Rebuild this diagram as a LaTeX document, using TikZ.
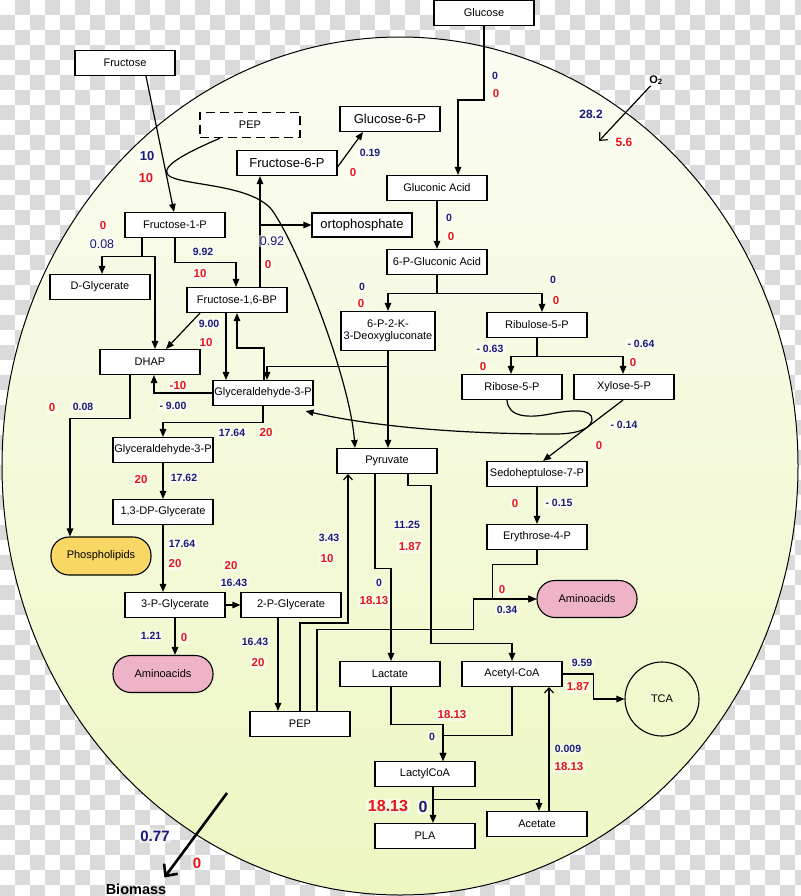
\documentclass[tikz,border=0pt]{standalone}
\usepackage{fontspec}
\setmainfont{Liberation Sans}
\usetikzlibrary{arrows.meta}
\definecolor{navy}{HTML}{1A1A78}
\definecolor{flred}{HTML}{E8141B}
\definecolor{celltop}{HTML}{FBFCF3}
\definecolor{cellbot}{HTML}{EDF7C2}
\definecolor{chk}{HTML}{DADADA}
\definecolor{lipid}{HTML}{F8D765}
\definecolor{amino}{HTML}{EFB3C7}

\begin{document}
\begin{tikzpicture}[x=1pt, y=-1pt,
  box/.style={draw, line width=1.1pt, fill=white, minimum width=100pt, minimum height=25pt, inner sep=1pt, align=center, font=\fontsize{11}{12}\selectfont},
  bigbox/.style={box, font=\fontsize{13}{15}\selectfont},
  pill/.style={box, rounded corners=18pt, minimum height=37pt},
  arr/.style={-{Triangle[length=8pt,width=6.5pt]}, line width=1.2pt},
  oarr/.style={-{Straight Barb[length=5pt,width=9pt]}, line width=1.2pt},
  nb/.style={text=navy, font=\bfseries\fontsize{10.5}{12}\selectfont, fill=white, fill opacity=0.5, text opacity=1, inner sep=1.5pt},
  nr/.style={nb, text=flred, font=\bfseries\fontsize{11.5}{13}\selectfont}
]
  \useasboundingbox (0,0) rectangle (800,896);

  % checkered backdrop and the cell
  \fill[white] (0,0) rectangle (800,896);
  \foreach \i in {0,30,...,780}
    \foreach \j in {0,30,...,870}
      {\fill[chk] (\i+15,\j) rectangle ++(15,15);
       \fill[chk] (\i,\j+15) rectangle ++(15,15);}
  \path[top color=celltop, bottom color=cellbot, draw=black, line width=1pt]
    (400,466) ellipse [x radius=398pt, y radius=429pt];

  % metabolites
  \node[box] (glc) at (484,13) {Glucose};
  \node[box] (fru) at (125,63) {Fructose};
  \node[box, dashed, dash pattern=on 9pt off 5pt, line width=1.4pt] (pepx) at (250,125) {PEP};
  \node[bigbox] (g6p) at (390,119) {Glucose-6-P};
  \node[bigbox] (f6p) at (287,163) {Fructose-6-P};
  \node[box] (glcA) at (437,188) {Gluconic Acid};
  \node[bigbox, minimum height=24pt] (orto) at (362,225) {ortophosphate};
  \node[box] (pga6) at (437,262) {6-P-Gluconic Acid};
  \node[box] (f1p) at (175,225) {Fructose-1-P};
  \node[box] (dgly) at (100,287) {D-Glycerate};
  \node[box] (fbp) at (237,300) {Fructose-1,6-BP};
  \node[box, minimum width=94pt, minimum height=39pt] (kdpg) at (388,331) {6-P-2-K-\\3-Deoxygluconate};
  \node[box] (ru5p) at (537,325) {Ribulose-5-P};
  \node[box] (dhap) at (150,362) {DHAP};
  \node[box] (gap) at (263,393) {Glyceraldehyde-3-P};
  \node[box] (r5p) at (512,387) {Ribose-5-P};
  \node[box] (x5p) at (624,387) {Xylose-5-P};
  \node[box] (gap2) at (163,450) {Glyceraldehyde-3-P};
  \node[box] (pyr) at (387,461) {Pyruvate};
  \node[box] (s7p) at (537,474) {Sedoheptulose-7-P};
  \node[box] (bpg) at (163,512) {1,3-DP-Glycerate};
  \node[box] (e4p) at (537,537) {Erythrose-4-P};
  \node[pill, fill=lipid, minimum height=38pt] (phos) at (101,556) {Phospholipids};
  \node[pill, fill=amino] (aa2) at (587,599) {Aminoacids};
  \node[box] (pg3) at (175,605) {3-P-Glycerate};
  \node[box] (pg2) at (291,605) {2-P-Glycerate};
  \node[pill, fill=amino] (aa1) at (163,674) {Aminoacids};
  \node[box] (lac) at (390,674) {Lactate};
  \node[box] (accoa) at (512,674) {Acetyl-CoA};
  \node[draw, circle, line width=1.1pt, minimum size=74pt, font=\fontsize{11}{12}\selectfont] (tca) at (662,699) {TCA};
  \node[box] (pep) at (300,724) {PEP};
  \node[box] (lcoa) at (425,774) {LactylCoA};
  \node[box] (ace) at (537,824) {Acetate};
  \node[box] (pla) at (425,836) {PLA};
  \node[font=\bfseries\fontsize{11}{13}\selectfont, inner sep=1pt] (o2) at (656,80) {O\textsubscript{2}};
  \node[font=\bfseries\fontsize{14.5}{16}\selectfont, inner sep=1pt] (bio) at (136,889) {Biomass};
  \coordinate (o2in) at (599,141);
  \coordinate (biostart) at (227,793);

  % fluxes
  \draw[arr] (glc.south) -- ++(0,74) -| ([xshift=21pt]glcA.north);
  \draw[arr] ([xshift=21pt]fru.south) -- ([xshift=-1pt]f1p.north);
  \draw[arr] ([xshift=-30pt]pepx.south) .. controls (188,152) and (160,166) .. (168,175)
    .. controls (180,186) and (250,183) .. (272,210)
    .. controls (300,250) and (350,380) .. ([xshift=-32pt]pyr.north);
  \draw[arr] ([yshift=-4pt]f6p.east) -- ([xshift=-27pt]g6p.south);
  \draw[arr] ([xshift=23pt]fbp.north) -- ([xshift=-27pt]f6p.south);
  \draw[arr] ([xshift=23pt]fbp.north |- orto.west) -- (orto.west);
  \draw[arr] ([xshift=-33pt]f1p.south) -- ++(0,18.5) -| ([xshift=2pt]dgly.north);
  \draw[arr] ([xshift=-33pt]f1p.south) ++(0,18.5) -| ([xshift=5pt]dhap.north);
  \draw[arr] (f1p.south) -- ++(0,24.5) -| ([xshift=-1pt]fbp.north);
  \draw[arr] ([xshift=-37pt]fbp.south) -- ([xshift=16pt]dhap.north);
  \draw[arr] ([xshift=-11pt]fbp.south) -- ([xshift=-37pt]gap.north);
  \draw[arr] ([xshift=1pt]gap.north) -- ++(0,-32) -| (fbp.south);
  \draw[arr] (kdpg.south) -- (kdpg.south |- pyr.north);
  \draw[arr] (kdpg.south) ++(0,15.5) -| ([xshift=4pt]gap.north);
  \draw[arr] (gap.west) -| ([xshift=4pt]dhap.south);
  \draw[arr] ([xshift=-20pt]dhap.south) -- ++(0,43.5) -| ([xshift=-31pt]phos.north);
  \draw[arr] (gap.south) -- ++(0,16.5) -| (gap2.north);
  \draw[arr] ([xshift=-5pt]r5p.south) .. controls (508,418) and (530,418) .. (550,414)
    .. controls (570,410) and (593,408) .. (592,420)
    .. controls (590,430) and (575,434) .. (555,434)
    .. controls (470,434) and (380,428) .. ([xshift=-8pt,yshift=-5pt]gap.south east);
  \draw[arr] ([xshift=-1pt]x5p.south) -- ([xshift=6pt]s7p.north);
  \draw[arr] (glcA.south) -- (pga6.north);
  \draw[arr] (pga6.south) -- ++(0,18.5) -| (kdpg.north);
  \draw[arr] (pga6.south) ++(0,18.5) -| ([xshift=5pt]ru5p.north);
  \draw[arr] (ru5p.south) -- ++(0,18.5) -| ([xshift=-1pt]r5p.north);
  \draw[arr] (ru5p.south) ++(0,18.5) -| ([xshift=-1pt]x5p.north);
  \draw[arr] (s7p.south) -- (e4p.north);
  \draw[arr] (e4p.south) -- ++(0,14.5) -| ([xshift=-44pt]aa2.west) -- (aa2.west);
  \draw[arr] ([xshift=17pt]pep.north) -- ++(0,-81.5) -| ([xshift=-63pt]aa2.west) -- (aa2.west);
  \draw[oarr] (pep.north) -- ++(0,-88) -| ([xshift=-39pt]pyr.south);
  \draw[arr] ([xshift=-13pt]pg2.south) -- ([xshift=-22pt]pep.north);
  \draw[arr] (pg3.east) -- (pg2.west);
  \draw[arr] (pg3.south) -- ([xshift=12pt]aa1.north);
  \draw[arr] (bpg.south) -- ([xshift=-12pt]pg3.north);
  \draw[arr] (gap2.south) -- (bpg.north);
  \draw[arr] ([xshift=-12pt]pyr.south) -- ++(0,94.5) -| ([xshift=1pt]lac.north);
  \draw[arr] ([xshift=21pt]pyr.south) -- ++(0,11.5) -- ++(23,0) -- ++(0,158) -| (accoa.north);
  \draw[arr] ([xshift=1pt]lac.south) -- ++(0,37.5) -| ([xshift=18pt]lcoa.north);
  \draw[arr] (accoa.south) -- ++(0,48.5) -| ([xshift=18pt]lcoa.north);
  \draw[arr] ([xshift=8pt]lcoa.south) -- ([xshift=8pt]pla.north);
  \draw[arr] ([xshift=8pt]lcoa.south) ++(0,12.5) -| ([xshift=2pt]ace.north);
  \draw[oarr] ([xshift=12pt]ace.north) -- ([xshift=37pt]accoa.south);
  \draw[arr] (accoa.east) -- ++(31,0) |- (tca.west);
  \draw[-{Straight Barb[length=6pt,width=11pt]}, line width=1.2pt] (o2) -- (o2in);
  \draw[-{Straight Barb[length=9pt,width=17pt]}, line width=2.6pt] (biostart) -- ([xshift=-3pt,yshift=5pt]bio.north east);

  % flux values
  \node[nb] (glc-b) at (495,76) {0};
  \node[nr] (glc-r) at (496,94) {0};
  \node[nb, font=\bfseries\fontsize{12}{14}\selectfont] (o2-b) at (591,114) {28.2};
  \node[nr, font=\bfseries\fontsize{12}{14}\selectfont] (o2-r) at (624,142) {5.6};
  \node[nb, font=\bfseries\fontsize{13}{15}\selectfont] (fru-b) at (147,156) {10};
  \node[nr, font=\bfseries\fontsize{13}{15}\selectfont] (fru-r) at (146,178) {10};
  \node[nb] (g6p-b) at (370,153) {0.19};
  \node[nr] (g6p-r) at (353,173) {0};
  \node[nr] (dgly-r) at (103,226) {0};
  \node[nb, font=\fontsize{12.5}{14}\selectfont] (dgly-b) at (102,244) {0.08};
  \node[nb, font=\fontsize{12.5}{14}\selectfont] (f6p-b) at (272,241) {0.92};
  \node[nr] (f6p-r) at (268,265) {0};
  \node[nb] (fbp-b) at (203,252) {9.92};
  \node[nr] (fbp-r) at (200,274) {10};
  \node[nb] (pga6-b) at (449,218) {0};
  \node[nr] (pga6-r) at (451,237) {0};
  \node[nb] (kdpg-b) at (362,287) {0};
  \node[nr] (kdpg-r) at (361,304) {0};
  \node[nb] (ru5p-b) at (553,280) {0};
  \node[nr] (ru5p-r) at (556,301) {0};
  \node[nb] (dhap-b) at (209,324) {9.00};
  \node[nr] (dhap-r) at (206,343) {10};
  \node[nb] (r5p-b) at (490,349) {- 0.63};
  \node[nr] (r5p-r) at (483,367) {0};
  \node[nb] (x5p-b) at (641,344) {- 0.64};
  \node[nr] (x5p-r) at (633,363) {0};
  \node[nr] (gap-r) at (178,386) {-10};
  \node[nb] (gap-b) at (173,406) {- 9.00};
  \node[nr] (phos-r) at (52,408) {0};
  \node[nb] (phos-b) at (83,407) {0.08};
  \node[nb] (gap2-b) at (232,433) {17.64};
  \node[nr] (gap2-r) at (266,433) {20};
  \node[nb] (s7p-b) at (624,425) {- 0.14};
  \node[nr] (s7p-r) at (599,446) {0};
  \node[nr] (bpg-r) at (141,480) {20};
  \node[nb] (bpg-b) at (184,478) {17.62};
  \node[nr] (e4p-r) at (515,504) {0};
  \node[nb] (e4p-b) at (559,503) {- 0.15};
  \node[nb] (pg3-b) at (182,544) {17.64};
  \node[nr] (pg3-r) at (175,564) {20};
  \node[nb] (pyr-b) at (329,538) {3.43};
  \node[nr] (pyr-r) at (327,559) {10};
  \node[nb] (acc-b) at (407,525) {11.25};
  \node[nr] (acc-r) at (410,547) {1.87};
  \node[nb] (lac-b) at (379,583) {0};
  \node[nr] (lac-r) at (374,601) {18.13};
  \node[nr] (pg2-r) at (231,566) {20};
  \node[nb] (pg2-b) at (234,583) {16.43};
  \node[nb] (aa1-b) at (151,636) {1.21};
  \node[nr] (aa1-r) at (184,638) {0};
  \node[nb] (pep-b) at (255,642) {16.43};
  \node[nr] (pep-r) at (258,663) {20};
  \node[nr] (aa2-r) at (502,590) {0};
  \node[nb] (aa2-b) at (507,610) {0.34};
  \node[nb] (tca-b) at (582,663) {9.59};
  \node[nr] (tca-r) at (578,687) {1.87};
  \node[nr] (lcoa-r) at (452,715) {18.13};
  \node[nb] (lcoa-b) at (432,737) {0};
  \node[nb] (ace-b) at (568,749) {0.009};
  \node[nr] (ace-r) at (569,767) {18.13};
  \node[nr, font=\bfseries\fontsize{16}{18}\selectfont] (pla-r) at (388,806) {18.13};
  \node[nb, font=\bfseries\fontsize{16}{18}\selectfont] (pla-b) at (423,807) {0};
  \node[nb, font=\bfseries\fontsize{15}{17}\selectfont] (bio-b) at (155,836) {0.77};
  \node[nr, font=\bfseries\fontsize{15}{17}\selectfont] (bio-r) at (197,863) {0};
\end{tikzpicture}
\end{document}
